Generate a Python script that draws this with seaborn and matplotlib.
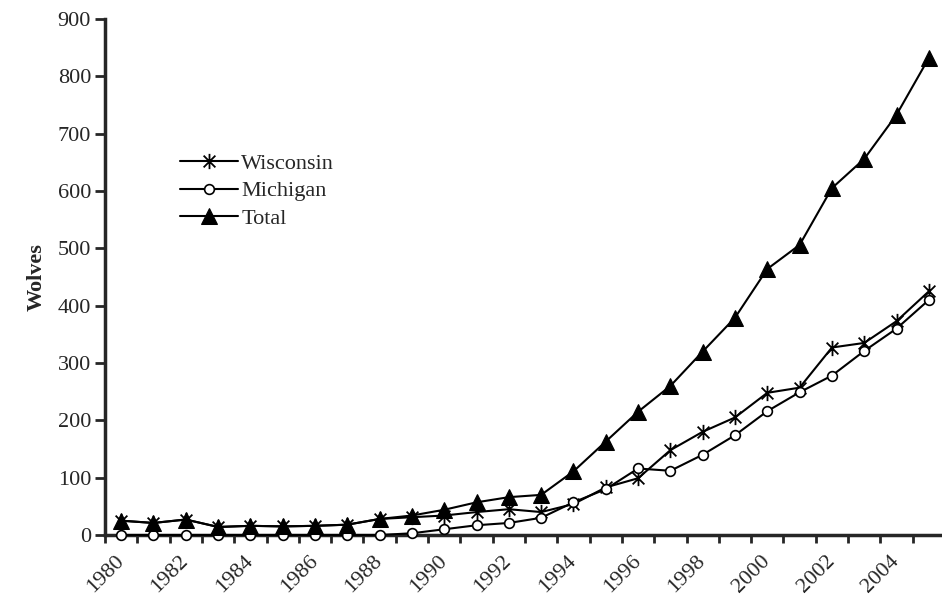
import numpy as np
import pandas as pd
import matplotlib
matplotlib.use("Agg")
import matplotlib.pyplot as plt
from matplotlib.path import Path
import seaborn as sns

# Wolf counts, Wisconsin and Michigan (late winter)
years = list(range(1980, 2006))
wisconsin = [25, 21, 27, 14, 16, 15, 16, 18, 28, 31, 34, 40, 45, 40, 54, 83,
             99, 148, 180, 205, 248, 257, 327, 335, 373, 425]
michigan = [0, 0, 0, 0, 0, 0, 0, 0, 0, 3, 10, 17, 21, 30, 57, 80,
            116, 112, 140, 174, 216, 249, 278, 321, 360, 410]
total = [25, 21, 27, 14, 16, 15, 16, 18, 28, 34, 44, 57, 66, 70, 111, 163,
         215, 260, 320, 379, 464, 506, 605, 656, 733, 832]
tick_years = [str(y) for y in years[::2]]

sns.set_style("ticks")
plt.rcParams["font.family"] = ["Liberation Serif", "DejaVu Serif"]

df = pd.DataFrame({"pos": np.arange(len(years)), "Wisconsin": wisconsin,
                   "Michigan": michigan, "Total": total})

# excel-like asterisk: x plus vertical bar
star = Path([(-1, -1), (1, 1), (-1, 1), (1, -1), (0, -1.3), (0, 1.3)],
            [Path.MOVETO, Path.LINETO, Path.MOVETO, Path.LINETO, Path.MOVETO, Path.LINETO])

fig = plt.figure(figsize=(9.42, 6.11), dpi=100)
ax = fig.add_axes([105 / 942, 76 / 611, 840 / 942, 516 / 611])

sns.lineplot(data=df, x="pos", y="Wisconsin", ax=ax, color="black", lw=1.5,
             marker=star, ms=11, mew=1.3, mec="black", label="Wisconsin", clip_on=False)
sns.lineplot(data=df, x="pos", y="Michigan", ax=ax, color="black", lw=1.5,
             marker="o", ms=7, mew=1.2, mec="black", mfc="white", label="Michigan",
             clip_on=False)
sns.lineplot(data=df, x="pos", y="Total", ax=ax, color="black", lw=1.5,
             marker="^", ms=12, mec="black", mfc="black", label="Total", clip_on=False)

ax.set_xlim(-0.5, len(years) - 0.5)
ax.set_ylim(0, 900)
ax.set_yticks(range(0, 901, 100))
ax.set_xticks(np.arange(-0.5, len(years), 1.0))
ax.set_xticklabels([])
ax.set_xticks(np.arange(0, len(years), 2), minor=True)
ax.set_xticklabels(tick_years, minor=True, rotation=45, ha="right", va="center",
                   rotation_mode="anchor", fontsize=16)
ax.tick_params(axis="x", which="minor", length=0, pad=17)
ax.tick_params(axis="x", which="major", direction="out", length=6, width=2)
ax.tick_params(axis="y", direction="out", length=7, width=2, labelsize=16, pad=3)

for side in ["top", "right"]:
    ax.spines[side].set_visible(False)
for side in ["left", "bottom"]:
    ax.spines[side].set_linewidth(2.5)
ax.spines["bottom"].set_zorder(0.5)

ax.set_xlabel("")
ax.set_ylabel("Wolves", fontsize=16, fontweight="bold", labelpad=8)

ax.legend(loc="center left", bbox_to_anchor=(180 / 942, 1 - 191 / 611),
          bbox_transform=fig.transFigure, frameon=False, fontsize=16,
          handlelength=2.6, handletextpad=0.15, labelspacing=0.3,
          borderpad=0, borderaxespad=0)

fig.savefig("out.png", dpi=100)
